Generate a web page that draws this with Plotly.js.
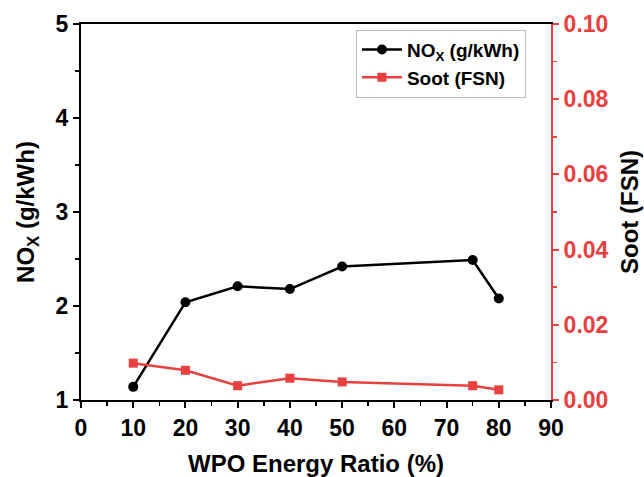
<!DOCTYPE html>
<html>
<head>
<meta charset="utf-8">
<script src="https://cdn.plot.ly/plotly-3.0.1.min.js"></script>
<style>html,body{margin:0;padding:0;background:#fff;}#chart{width:644px;height:477px;}</style>
</head>
<body>
<div id="chart"></div>
<script>
// WPO energy ratio (%) tested
const wpoRatio = [10, 20, 30, 40, 50, 75, 80];
// NOx emissions (g/kWh)
const noxValues = [1.14, 2.04, 2.21, 2.18, 2.42, 2.49, 2.08];
// Soot (FSN)
const sootValues = [0.0098, 0.0079, 0.0038, 0.0058, 0.0048, 0.0038, 0.0027];

const RED = '#e8403f';
const FONT = 'Liberation Sans, Arial, sans-serif';

const traces = [
  {
    x: wpoRatio, y: noxValues, name: 'NO<sub>X</sub> (g/kWh)',
    mode: 'lines+markers', type: 'scatter',
    line: {color: '#000', width: 2.5},
    marker: {color: '#000', symbol: 'circle', size: 10},
    yaxis: 'y'
  },
  {
    x: wpoRatio, y: sootValues, name: 'Soot (FSN)',
    mode: 'lines+markers', type: 'scatter',
    line: {color: RED, width: 2.5},
    marker: {color: RED, symbol: 'square', size: 9},
    yaxis: 'y2'
  }
];

const layout = {
  width: 644, height: 477,
  margin: {l: 81, r: 93, t: 24, b: 77},
  paper_bgcolor: '#fff', plot_bgcolor: '#fff',
  font: {family: FONT, color: '#000', size: 23, weight: 'bold'},
  showlegend: true,
  legend: {
    x: 0.585, y: 0.985, xanchor: 'left', yanchor: 'top',
    bgcolor: '#fff', bordercolor: '#bbb', borderwidth: 1,
    font: {family: FONT, size: 19, color: '#000', weight: 'bold'},
    tracegroupgap: 0, itemwidth: 40
  },
  xaxis: {
    range: [0, 90], dtick: 10, tick0: 0,
    showgrid: false, zeroline: false,
    showline: true, linecolor: '#000', linewidth: 2, mirror: true,
    ticks: 'outside', ticklen: 6, tickwidth: 2, tickcolor: '#000',
    minor: {dtick: 5, ticks: 'outside', ticklen: 4, tickwidth: 1.5, tickcolor: '#000', showgrid: false},
    tickfont: {family: FONT, size: 23, color: '#000', weight: 'bold'},
    title: {text: 'WPO Energy Ratio (%)', font: {family: FONT, size: 24, color: '#000', weight: 'bold'}, standoff: 16}
  },
  yaxis: {
    range: [1, 5], dtick: 1,
    showgrid: false, zeroline: false,
    showline: true, linecolor: '#000', linewidth: 2,
    ticks: 'outside', ticklen: 6, tickwidth: 2, tickcolor: '#000',
    minor: {dtick: 0.5, ticks: 'outside', ticklen: 4, tickwidth: 1.5, tickcolor: '#000', showgrid: false},
    tickfont: {family: FONT, size: 23, color: '#000', weight: 'bold'},
    title: {text: 'NO<sub>X</sub> (g/kWh)', font: {family: FONT, size: 24, color: '#000', weight: 'bold'}, standoff: 14}
  },
  yaxis2: {
    overlaying: 'y', side: 'right',
    range: [0, 0.10], dtick: 0.02, tickformat: '.2f',
    showgrid: false, zeroline: false,
    showline: true, linecolor: RED, linewidth: 2,
    ticks: 'outside', ticklen: 6, tickwidth: 2, tickcolor: RED,
    minor: {dtick: 0.01, ticks: 'outside', ticklen: 4, tickwidth: 1.5, tickcolor: RED, showgrid: false},
    tickfont: {family: FONT, size: 23, color: RED, weight: 'bold'},
    title: {text: 'Soot (FSN)', font: {family: FONT, size: 24, color: '#000', weight: 'bold'}, standoff: 14}
  }
};

Plotly.newPlot('chart', traces, layout, {displayModeBar: false, staticPlot: true});
</script>
</body>
</html>
